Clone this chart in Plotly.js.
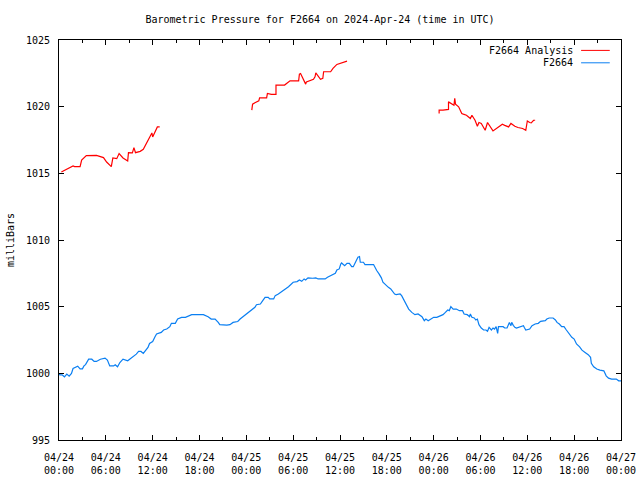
<!DOCTYPE html>
<html>
<head>
<meta charset="utf-8">
<script src="https://cdn.plot.ly/plotly-3.0.1.min.js"></script>
<style>html,body{margin:0;padding:0;background:#fff}#chart{width:640px;height:480px}</style>
</head>
<body>
<div id="chart"></div>
<script>
// Hours since 2024-04-24 00:00 UTC
const analysisHours = [
  0.3,0.55,1.2,1.8,2.0,2.7,2.9,3.5,4.8,5.7,6.1,6.7,6.9,7.4,7.7,8.2,8.8,8.9,9.4,9.6,9.8,10.4,10.8,11.2,11.7,11.9,12.0,12.3,12.6,12.9,
  null,
  24.7,24.8,25.1,25.6,25.7,26.6,26.7,27.2,27.8,27.8,28.9,29.6,30.1,30.7,30.8,30.95,31.6,31.7,32.6,32.8,32.9,33.5,33.8,33.9,34.8,35.1,35.6,36.1,36.5,36.9,
  null,
  48.7,48.7,49.2,49.9,49.9,50.3,50.6,50.7,50.8,51.2,51.6,51.8,52.2,52.7,52.9,53.3,53.6,53.8,54.1,54.6,54.9,55.6,56.3,56.8,57.1,57.6,57.9,58.4,58.8,59.4,59.8,60.0,60.3,60.5,60.8,61.0
];
const analysisValues = [
  1015.1,1015.17,1015.35,1015.55,1015.5,1015.5,1016.0,1016.33,1016.35,1016.18,1015.85,1015.5,1016.15,1016.1,1016.48,1016.15,1015.93,1016.55,1016.53,1016.93,1016.55,1016.65,1016.8,1017.23,1017.73,1018.03,1017.73,1018.1,1018.48,1018.48,
  null,
  1019.74,1020.19,1020.3,1020.44,1020.66,1020.66,1020.99,1020.92,1020.92,1021.62,1021.62,1021.94,1021.94,1021.94,1022.44,1022.49,1021.69,1021.86,1022.05,1022.24,1022.54,1022.05,1022.12,1022.62,1022.62,1022.87,1023.17,1023.25,1023.37,1023.42,
  null,
  1019.49,1019.74,1019.74,1019.79,1020.36,1020.19,1020.11,1020.62,1020.19,1019.99,1019.49,1019.44,1019.36,1019.11,1019.36,1018.98,1018.53,1018.81,1018.74,1018.23,1018.81,1018.18,1018.44,1018.68,1018.6,1018.48,1018.74,1018.53,1018.44,1018.36,1018.23,1018.93,1018.81,1018.78,1018.98,1018.98
];

const stationHours = [
  0,0.1,0.4,0.7,1.0,1.3,1.6,1.8,2.4,2.7,3.0,3.2,3.4,3.8,4.2,4.5,4.8,5.3,5.9,6.2,6.5,7.0,7.2,7.5,7.8,8.2,8.8,9.1,9.5,9.9,
  10.2,10.5,10.8,11.1,11.4,11.6,12.0,12.3,12.5,13.1,13.4,13.8,14.2,14.4,14.9,15.2,15.7,16.2,16.6,17.0,18.5,18.9,19.1,19.5,20.0,
  20.4,20.6,21.5,21.9,22.3,22.9,23.2,23.6,24.0,24.5,24.9,25.1,25.3,25.8,26.1,26.4,26.8,27.0,27.5,27.7,28.1,28.5,29.0,29.4,29.8,
  30.0,30.5,30.8,31.1,31.4,31.6,31.9,32.5,32.9,33.2,34.1,34.4,34.8,35.1,35.4,35.6,35.9,36.1,36.2,36.6,36.9,37.2,37.5,37.7,38.0,
  38.3,38.5,38.6,39.0,39.2,40.3,40.5,40.7,41.0,41.3,41.5,41.9,42.2,42.5,42.8,43.0,43.2,43.7,43.9,44.1,44.5,44.8,45.2,45.6,46.0,
  46.5,46.8,47.0,47.3,47.6,48.0,48.4,48.8,49.2,49.5,49.8,50.0,50.2,50.5,50.9,51.3,51.7,51.9,52.3,52.6,52.7,52.9,53.2,53.4,53.6,
  53.8,54.1,54.4,54.7,54.9,55.1,55.4,55.6,55.8,56.0,56.2,56.3,56.9,57.1,57.4,57.7,57.9,58.0,58.2,58.4,58.6,59.1,59.5,59.6,59.8,
  60.3,60.6,61.0,61.4,61.7,62.3,62.5,62.8,63.3,63.6,63.8,64.1,64.4,64.7,65.0,65.4,65.7,66.0,66.3,66.7,67.0,67.4,67.8,68.1,68.2,
  68.5,68.9,69.3,69.8,70.1,70.4,70.8,71.4,71.7,72.0
];
const stationValues = [
  1000.0,999.89,999.89,999.74,999.94,999.79,999.99,1000.36,1000.54,1000.34,1000.34,1000.56,1000.65,1001.06,1001.06,1000.89,1000.89,1001.06,1001.14,1000.99,1000.56,1000.56,1000.64,1000.49,1000.81,1001.06,1000.94,1001.06,1001.24,1001.44,
  1001.64,1001.64,1001.49,1001.74,1001.94,1002.24,1002.39,1002.74,1002.95,1003.07,1003.25,1003.32,1003.5,1003.75,1003.75,1004.07,1004.2,1004.2,1004.32,1004.4,1004.4,1004.32,1004.25,1004.07,1004.07,
  1003.82,1003.65,1003.62,1003.65,1003.82,1003.89,1004.07,1004.25,1004.45,1004.7,1004.82,1004.95,1005.15,1005.2,1005.45,1005.7,1005.7,1005.58,1005.58,1005.83,1005.95,1006.15,1006.33,1006.5,1006.7,
  1006.83,1006.88,1007.0,1006.9,1007.08,1007.0,1007.16,1007.13,1007.16,1007.08,1007.08,1007.2,1007.33,1007.4,1007.5,1007.75,1007.83,1008.2,1008.28,1008.08,1008.25,1008.25,1008.0,1008.0,1008.33,
  1008.71,1008.76,1008.33,1008.33,1008.16,1008.16,1007.91,1007.71,1007.46,1007.16,1006.83,1006.58,1006.45,1006.33,1006.07,1005.95,1005.9,1005.95,1005.83,1005.58,1005.2,1004.82,1004.57,1004.4,1004.45,
  1004.25,1003.95,1004.07,1003.95,1004.07,1004.2,1004.2,1004.32,1004.4,1004.57,1004.75,1004.7,1005.0,1004.82,1004.82,1004.7,1004.7,1004.45,1004.4,1004.25,1004.45,1004.2,1004.15,1004.0,1004.07,
  1003.65,1003.4,1003.25,1003.25,1003.15,1003.45,1003.25,1003.4,1003.32,1003.5,1003.0,1003.5,1003.5,1003.4,1003.4,1003.82,1003.57,1003.82,1003.6,1003.45,1003.4,1003.5,1003.57,1003.45,1003.25,
  1003.32,1003.57,1003.7,1003.75,1003.9,1003.95,1004.07,1004.15,1004.15,1004.0,1003.82,1003.7,1003.5,1003.5,1003.25,1002.9,1002.7,1002.57,1002.2,1001.99,1001.74,1001.57,1001.4,1001.2,1000.75,
  1000.49,1000.32,1000.24,1000.19,999.81,999.64,999.57,999.57,999.44,999.44
];

const xTickVals = [0,6,12,18,24,30,36,42,48,54,60,66,72];
const xTickText = ["04/24<br>00:00","04/24<br>06:00","04/24<br>12:00","04/24<br>18:00","04/25<br>00:00","04/25<br>06:00","04/25<br>12:00","04/25<br>18:00","04/26<br>00:00","04/26<br>06:00","04/26<br>12:00","04/26<br>18:00","04/27<br>00:00"];
const seriesNames = ["F2664 Analysis", "F2664"];
const seriesColors = ["#ff0000", "#0a7ff2"];

const FONT = "DejaVu Sans Mono, monospace";

const traces = [
  {x: analysisHours, y: analysisValues, type: "scatter", mode: "lines", name: seriesNames[0],
   connectgaps: false, line: {color: seriesColors[0], width: 1.2}, hoverinfo: "skip"},
  {x: stationHours, y: stationValues, type: "scatter", mode: "lines", name: seriesNames[1],
   line: {color: seriesColors[1], width: 1.2}, hoverinfo: "skip"}
];

const legendRows = [0.974, 0.943];
const annotations = seriesNames.map((n, i) => ({
  xref: "paper", yref: "paper", x: 0.918, y: legendRows[i], xanchor: "right", yanchor: "middle",
  text: n, showarrow: false, font: {family: FONT, size: 10, color: "#000"}
}));
annotations.push({
  xref: "paper", yref: "paper", x: -0.087, y: 0.5, xanchor: "center", yanchor: "middle",
  text: "milliBars", textangle: -90, showarrow: false, font: {family: FONT, size: 10, color: "#000"}
});
const shapes = seriesNames.map((n, i) => ({
  type: "line", xref: "paper", yref: "paper", x0: 0.929, x1: 0.980, y0: legendRows[i], y1: legendRows[i],
  line: {color: seriesColors[i], width: 1}
}));

const layout = {
  width: 640, height: 480,
  margin: {l: 59, r: 19, t: 40, b: 40, pad: 0},
  paper_bgcolor: "#fff", plot_bgcolor: "#fff",
  font: {family: FONT, size: 10, color: "#000"},
  showlegend: false,
  title: {text: "Barometric Pressure for F2664 on 2024-Apr-24 (time in UTC)", font: {family: FONT, size: 10, color: "#000"},
          x: 0.5, xanchor: "center", y: 0.96, yanchor: "middle"},
  xaxis: {
    range: [0, 72], tickmode: "array", tickvals: xTickVals, ticktext: xTickText,
    ticks: "inside", ticklen: 5, tickcolor: "#000", tickwidth: 1,
    minor: {dtick: 3, tick0: 0, ticks: "inside", ticklen: 3, tickcolor: "#000", showgrid: false},
    showgrid: false, zeroline: false, showline: true, linecolor: "#000", linewidth: 1, mirror: "ticks",
    tickfont: {family: FONT, size: 10, color: "#000"}, ticklabelstandoff: 8
  },
  yaxis: {
    range: [995, 1025], dtick: 5, tick0: 995,
    ticks: "inside", ticklen: 5, tickcolor: "#000", tickwidth: 1,
    showgrid: false, zeroline: false, showline: true, linecolor: "#000", linewidth: 1, mirror: "ticks",
    tickfont: {family: FONT, size: 10, color: "#000"}, ticklabelstandoff: 6
  },
  annotations: annotations,
  shapes: shapes
};

Plotly.newPlot("chart", traces, layout, {staticPlot: true, displayModeBar: false});
</script>
</body>
</html>
